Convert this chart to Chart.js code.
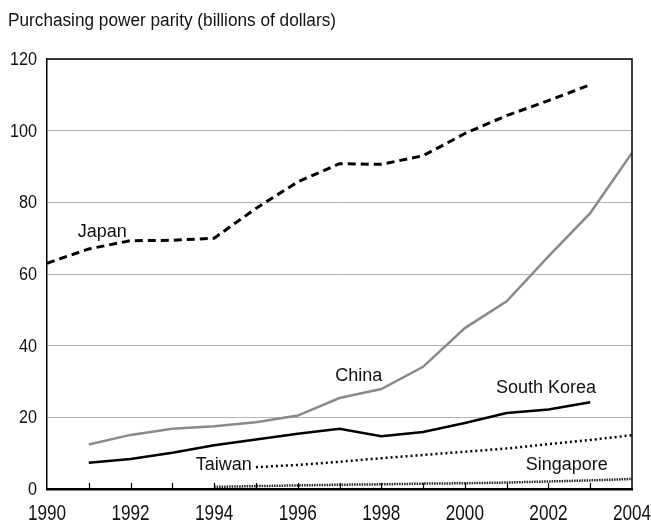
<!DOCTYPE html>
<html>
<head>
<meta charset="utf-8">
<script src="https://cdn.jsdelivr.net/npm/chart.js@4.4.1/dist/chart.umd.min.js"></script>
<style>
  html, body { margin: 0; padding: 0; background: #fff; }
  #wrap { position: relative; width: 651px; height: 521px; }
</style>
</head>
<body>
<div id="wrap"><canvas id="c" width="651" height="521"></canvas></div>
<script>
// ---- Data ----
const subtitle = "Purchasing power parity (billions of dollars)";
const japanYears = [1990,1991,1992,1993,1994,1995,1996,1997,1998,1999,2000,2001,2002,2003];
const japanValues = [63.0,67.0,69.3,69.4,70.0,78.3,85.7,90.8,90.6,93.0,99.2,104.2,108.4,112.8];
const chinaYears = [1991,1992,1993,1994,1995,1996,1997,1998,1999,2000,2001,2002,2003,2004];
const chinaValues = [12.4,15.1,16.8,17.5,18.6,20.5,25.4,27.9,34.1,44.9,52.4,64.9,77.0,93.8];
const koreaYears = [1991,1992,1993,1994,1995,1996,1997,1998,1999,2000,2001,2002,2003];
const koreaValues = [7.3,8.4,10.1,12.2,13.8,15.4,16.8,14.7,15.9,18.4,21.2,22.2,24.2];
const taiwanYears = [1995,1996,1997,1998,1999,2000,2001,2002,2003,2004];
const taiwanValues = [6.1,6.7,7.6,8.6,9.5,10.4,11.3,12.5,13.7,15.0];
const singaporeYears = [1994,1995,1996,1997,1998,1999,2000,2001,2002,2003,2004];
const singaporeValues = [0.6,0.8,1.0,1.2,1.3,1.5,1.6,1.8,2.1,2.4,2.8];
const yTicks = [0,20,40,60,80,100,120];
const xLabelYears = [1990,1992,1994,1996,1998,2000,2002,2004];
const minorTickYears = [1991,1992,1993,1994,1995,1996,1997,1998,1999,2000,2001,2002,2003];
// series labels, anchored in data units (year, value)
const seriesLabels = [
  { text: "Japan", x: 1991.32, y: 71.8, align: "center" },
  { text: "China", x: 1997.46, y: 31.4, align: "center" },
  { text: "South Korea", x: 2001.94, y: 28.3, align: "center" },
  { text: "Taiwan", x: 1994.9, y: 6.7, align: "right" },
  { text: "Singapore", x: 2002.44, y: 6.7, align: "center" }
];

const FONT = '"Liberation Sans", Arial, Helvetica, sans-serif';

function pts(xs, ys) { return xs.map((x, i) => ({ x: x, y: ys[i] })); }

// draw text horizontally condensed by factor sx
function narrowText(ctx, text, x, y, sx, align) {
  ctx.save();
  ctx.translate(x, y);
  ctx.scale(sx, 1);
  ctx.textAlign = align;
  ctx.fillText(text, 0, 0);
  ctx.restore();
}

const decor = {
  id: 'decor',
  afterDatasetsDraw(chart) {
    const ctx = chart.ctx;
    const a = chart.chartArea;
    const xs = chart.scales.x, ys = chart.scales.y;
    ctx.save();
    // frame top/right
    ctx.strokeStyle = '#000';
    ctx.lineWidth = 1.5;
    ctx.beginPath();
    ctx.moveTo(a.left, a.top);
    ctx.lineTo(a.right, a.top);
    ctx.lineTo(a.right, a.bottom);
    ctx.stroke();
    // inward ticks
    ctx.lineWidth = 1.2;
    ctx.beginPath();
    minorTickYears.forEach(yr => {
      const px = Math.round(xs.getPixelForValue(yr)) + 0.5;
      ctx.moveTo(px, a.bottom);
      ctx.lineTo(px, a.bottom - 6);
    });
    ctx.stroke();
    ctx.fillStyle = '#111';
    // y tick labels
    ctx.font = '18px ' + FONT;
    ctx.textBaseline = 'middle';
    yTicks.forEach(v => {
      narrowText(ctx, String(v), a.left - 10, ys.getPixelForValue(v) + 1, 0.9, 'right');
    });
    // x tick labels
    ctx.font = '22px ' + FONT;
    ctx.textBaseline = 'top';
    xLabelYears.forEach(v => {
      narrowText(ctx, String(v), xs.getPixelForValue(v), a.bottom + 14, 0.78, 'center');
    });
    // series labels
    ctx.font = '18px ' + FONT;
    ctx.textBaseline = 'middle';
    seriesLabels.forEach(l => {
      ctx.textAlign = l.align;
      ctx.fillText(l.text, xs.getPixelForValue(l.x), ys.getPixelForValue(l.y));
    });
    // subtitle
    ctx.font = '18px ' + FONT;
    const w = ctx.measureText(subtitle).width;
    narrowText(ctx, subtitle, 8, 21, 328 / w, 'left');
    ctx.restore();
  }
};

new Chart(document.getElementById('c'), {
  type: 'line',
  data: {
    datasets: [
      { label: 'Japan', data: pts(japanYears, japanValues), borderColor: '#000', borderWidth: 3, borderDash: [8, 5], pointRadius: 0, tension: 0 },
      { label: 'China', data: pts(chinaYears, chinaValues), borderColor: '#8a8a8a', borderWidth: 2.5, pointRadius: 0, tension: 0 },
      { label: 'South Korea', data: pts(koreaYears, koreaValues), borderColor: '#000', borderWidth: 2.5, pointRadius: 0, tension: 0 },
      { label: 'Taiwan', data: pts(taiwanYears, taiwanValues), borderColor: '#000', borderWidth: 2.5, borderDash: [2, 3], pointRadius: 0, tension: 0 },
      { label: 'Singapore', data: pts(singaporeYears, singaporeValues), borderColor: '#222', borderWidth: 2.5, borderDash: [1.5, 1], pointRadius: 0, tension: 0 }
    ]
  },
  options: {
    responsive: false,
    animation: false,
    devicePixelRatio: 1,
    layout: { padding: { top: 59, right: 19, left: 0, bottom: 0 } },
    plugins: { legend: { display: false }, tooltip: { enabled: false }, title: { display: false } },
    scales: {
      x: {
        type: 'linear', min: 1990, max: 2004,
        afterBuildTicks(s) { s.ticks = xLabelYears.map(v => ({ value: v })); },
        afterFit(s) { s.height = 32; },
        grid: { display: false, drawTicks: false },
        border: { display: true, color: '#000', width: 2.5 },
        ticks: { display: false }
      },
      y: {
        min: 0, max: 120,
        afterBuildTicks(s) { s.ticks = yTicks.map(v => ({ value: v })); },
        afterFit(s) { s.width = 47; },
        grid: { color: '#b4b4b4', lineWidth: 1, drawTicks: false },
        border: { display: true, color: '#000', width: 1.5 },
        ticks: { display: false }
      }
    }
  },
  plugins: [decor]
});
</script>
</body>
</html>
